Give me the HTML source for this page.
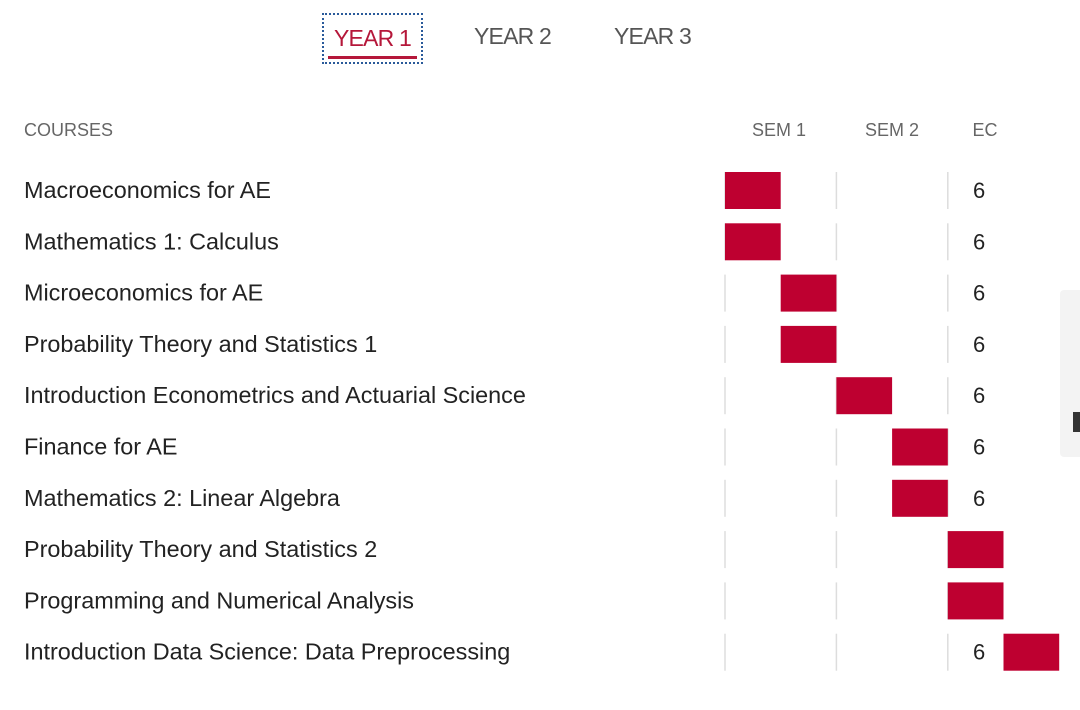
<!DOCTYPE html>
<html><head><meta charset="utf-8"><style>
body{margin:0;width:1080px;height:710px;background:#fff;overflow:hidden;font-family:"Liberation Sans",sans-serif;position:relative}
.tab{position:absolute;top:23px;font-size:23px;color:#555;letter-spacing:-0.8px}
#chart{position:absolute;left:0;top:0}
</style></head><body>
<div class="tab" style="left:322px;top:13px;width:97px;height:47px;border:2px dotted #2a5a9a;color:#b5173a;">
  <span style="position:absolute;left:10px;top:10px">YEAR 1</span>
  <div style="position:absolute;left:4px;right:4px;top:41px;height:3px;background:#b5173a"></div>
</div>
<div class="tab" style="left:474px">YEAR 2</div>
<div class="tab" style="left:614px">YEAR 3</div>
<div style="position:absolute;left:1060px;top:290px;width:20px;height:167px;background:#f3f3f3;border-radius:4px 0 0 4px"></div>
<div style="position:absolute;left:1073px;top:412px;width:7px;height:20px;background:#333"></div>
<svg id="chart" width="1080" height="710"></svg>
<script>
const courses=["Macroeconomics for AE","Mathematics 1: Calculus","Microeconomics for AE","Probability Theory and Statistics 1","Introduction Econometrics and Actuarial Science","Finance for AE","Mathematics 2: Linear Algebra","Probability Theory and Statistics 2","Programming and Numerical Analysis","Introduction Data Science: Data Preprocessing"];
const periods=[0,0,1,1,2,3,3,4,4,5];
const credits=[6,6,6,6,6,6,6,6,6,6];
const headers=["COURSES","SEM 1","SEM 2","EC"];
const NS="http://www.w3.org/2000/svg";
const svg=document.getElementById('chart');
const x0=725,pw=55.7,rowTop=172,rowH=51.3,barH=37;
const px=p=>x0+p*pw;
const ry=i=>rowTop+i*rowH;
function mk(tag,attrs){const e=document.createElementNS(NS,tag);for(const k in attrs)e.setAttribute(k,attrs[k]);svg.appendChild(e);return e;}
const hx=[24,779,892,985],ha=["start","middle","middle","middle"];
headers.forEach((h,j)=>{const t=mk('text',{x:hx[j],y:136,'font-size':18,fill:'#666','text-anchor':ha[j],'font-family':'Liberation Sans, sans-serif'});t.textContent=h;

});
courses.forEach((c,i)=>{
  const y=ry(i);
  [0,2,4].forEach(p=>{const l=mk('line',{x1:px(p),x2:px(p),y1:y,y2:y+barH,stroke:'#ddd','stroke-width':1.5});
  
  });
  const t=mk('text',{x:24,y:y+26,'font-size':23.4,fill:'#222','font-family':'Liberation Sans, sans-serif'});t.textContent=c;
  
  
  const e=mk('text',{x:973,y:y+26,'font-size':22,fill:'#222','font-family':'Liberation Sans, sans-serif'});e.textContent=credits[i];
  
  
  const b=mk('rect',{x:px(periods[i]),y:y,width:pw,height:barH,fill:'#be0030'});
  
  
});
</script>
</body></html>
